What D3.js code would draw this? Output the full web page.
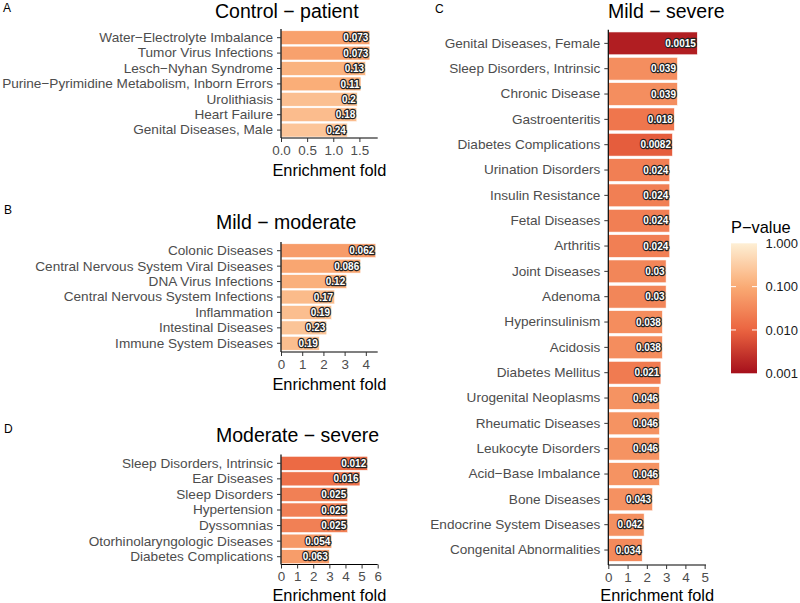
<!DOCTYPE html>
<html><head><meta charset="utf-8">
<script src="https://cdn.jsdelivr.net/npm/d3@7"></script>
<style>body{margin:0;background:#fff}svg{display:block}</style>
</head><body>
<svg id="chart" width="800" height="603"></svg>
<script>
// ---------- data ----------
const termsA = ["Water\u2212Electrolyte Imbalance","Tumor Virus Infections","Lesch\u2212Nyhan Syndrome","Purine\u2212Pyrimidine Metabolism, Inborn Errors","Urolithiasis","Heart Failure","Genital Diseases, Male"];
const foldA = [1.70,1.70,1.62,1.53,1.46,1.45,1.27];
const pA = [0.073,0.073,0.13,0.11,0.2,0.18,0.24];
const pLabelsA = ["0.073","0.073","0.13","0.11","0.2","0.18","0.24"];
const ticksA = [0,0.5,1.0,1.5];

const termsB = ["Colonic Diseases","Central Nervous System Viral Diseases","DNA Virus Infections","Central Nervous System Infections","Inflammation","Intestinal Diseases","Immune System Diseases"];
const foldB = [4.47,3.76,3.10,2.53,2.39,2.16,1.81];
const pB = [0.062,0.086,0.12,0.17,0.19,0.23,0.19];
const pLabelsB = ["0.062","0.086","0.12","0.17","0.19","0.23","0.19"];
const ticksB = [0,1,2,3,4];

const termsD = ["Sleep Disorders, Intrinsic","Ear Diseases","Sleep Disorders","Hypertension","Dyssomnias","Otorhinolaryngologic Diseases","Diabetes Complications"];
const foldD = [5.38,4.90,4.14,4.14,4.14,3.15,3.00];
const pD = [0.012,0.016,0.025,0.025,0.025,0.054,0.063];
const pLabelsD = ["0.012","0.016","0.025","0.025","0.025","0.054","0.063"];
const ticksD = [0,1,2,3,4,5,6];

const termsC = ["Genital Diseases, Female","Sleep Disorders, Intrinsic","Chronic Disease","Gastroenteritis","Diabetes Complications","Urination Disorders","Insulin Resistance","Fetal Diseases","Arthritis","Joint Diseases","Adenoma","Hyperinsulinism","Acidosis","Diabetes Mellitus","Urogenital Neoplasms","Rheumatic Diseases","Leukocyte Disorders","Acid\u2212Base Imbalance","Bone Diseases","Endocrine System Diseases","Congenital Abnormalities"];
const foldC = [4.62,3.59,3.59,3.43,3.33,3.19,3.19,3.19,3.19,3.00,3.00,2.81,2.81,2.73,2.66,2.66,2.66,2.66,2.30,1.86,1.76];
const pC = [0.0015,0.039,0.039,0.018,0.0082,0.024,0.024,0.024,0.024,0.03,0.03,0.038,0.038,0.021,0.046,0.046,0.046,0.046,0.043,0.042,0.034];
const pLabelsC = ["0.0015","0.039","0.039","0.018","0.0082","0.024","0.024","0.024","0.024","0.03","0.03","0.038","0.038","0.021","0.046","0.046","0.046","0.046","0.043","0.042","0.034"];
const ticksC = [0,1,2,3,4,5];

const legendTicks = [1,0.1,0.01,0.001];
const legendLabels = ["1.000","0.100","0.010","0.001"];

// ---------- styling ----------
const FONT = "'Liberation Sans', Arial, Helvetica, sans-serif";
const color = d3.scaleLinear()
  .domain([0,-1,-2,-3])
  .range(["#FEEFD5","#FAAB74","#EB6440","#A50F1B"])
  .interpolate(d3.interpolateRgb)
  .clamp(true);
const fillFor = p => color(Math.log10(p));

const svg = d3.select("#chart").style("font-family", FONT);

function panel(cfg){
  const g = svg.append("g");
  const x = d3.scaleLinear().domain([0,cfg.xmax]).range([cfg.x0,cfg.x1]);
  const y = d3.scaleBand().domain(cfg.terms).range([cfg.top,cfg.bot]).paddingInner(0.1).paddingOuter(0.05);
  const rows = cfg.terms.map((t,i)=>({t, f:cfg.fold[i], p:cfg.p[i], lab:cfg.labels[i]}));

  g.selectAll("rect.bar").data(rows).join("rect")
    .attr("x", x(0)).attr("y", d=>y(d.t))
    .attr("width", d=>x(d.f)-x(0)).attr("height", y.bandwidth())
    .attr("fill", d=>fillFor(d.p))
    .attr("stroke","#fff").attr("stroke-width",0.6);

  g.selectAll("text.val").data(rows).join("text")
    .attr("x", d=>x(d.f)-1.5).attr("y", d=>y(d.t)+y.bandwidth()/2)
    .attr("dy","0.36em").attr("text-anchor","end")
    .attr("font-size",10).attr("font-weight","bold")
    .attr("fill","#fff").attr("stroke","#222").attr("stroke-width",2.4)
    .attr("stroke-linejoin","round").attr("paint-order","stroke")
    .text(d=>d.lab);

  // y axis
  const ya = g.append("g").attr("transform",`translate(${cfg.x0},0)`)
    .call(d3.axisLeft(y).tickSize(4).tickPadding(4));
  ya.select(".domain").attr("d",`M0,${cfg.top-1}V${cfg.axisY}`).attr("stroke","#000").attr("stroke-width",1.2);
  ya.selectAll(".tick line").attr("stroke","#333").attr("stroke-width",1);
  ya.selectAll(".tick text").attr("fill","#4D4D4D").attr("font-size",13.6).attr("font-family",FONT);

  // x axis
  const xa = g.append("g").attr("transform",`translate(0,${cfg.axisY})`)
    .call(d3.axisBottom(x).tickValues(cfg.ticks).tickFormat(cfg.fmt).tickSize(4).tickPadding(3));
  xa.select(".domain").attr("d",`M${cfg.x0},0H${cfg.x1}`).attr("stroke","#000").attr("stroke-width",1.2);
  xa.selectAll(".tick line").attr("stroke","#333").attr("stroke-width",1);
  xa.selectAll(".tick text").attr("fill","#4D4D4D").attr("font-size",13.4).attr("font-family",FONT);

  g.append("text").attr("x",(cfg.x0+cfg.x1)/2).attr("y",cfg.axisTitleY)
    .attr("text-anchor","middle").attr("font-size",16.4).attr("fill","#000").text("Enrichment fold");

  g.append("text").attr("x",cfg.titleX).attr("y",cfg.titleY)
    .attr("font-size",19.5).attr("fill","#000").text(cfg.title);

  g.append("text").attr("x",cfg.letterX).attr("y",cfg.letterY)
    .attr("font-size",12).attr("fill","#000").text(cfg.letter);
}

panel({terms:termsA, fold:foldA, p:pA, labels:pLabelsA, ticks:ticksA, fmt:d3.format(".1f"),
  xmax:1.85, x0:281, x1:377.7, top:30, bot:137.8, axisY:138,
  axisTitleY:176, title:"Control \u2212 patient", titleX:215, titleY:18, letter:"A", letterX:3, letterY:12});
panel({terms:termsB, fold:foldB, p:pB, labels:pLabelsB, ticks:ticksB, fmt:d3.format("d"),
  xmax:4.56, x0:281, x1:377.7, top:243, bot:351, axisY:352,
  axisTitleY:390, title:"Mild \u2212 moderate", titleX:216, titleY:228.5, letter:"B", letterX:4, letterY:213.5});
panel({terms:termsD, fold:foldD, p:pD, labels:pLabelsD, ticks:ticksD, fmt:d3.format("d"),
  xmax:6.0, x0:281, x1:377.7, top:455.5, bot:564.5, axisY:564.5,
  axisTitleY:601, title:"Moderate \u2212 severe", titleX:216, titleY:442, letter:"D", letterX:4, letterY:433});
panel({terms:termsC, fold:foldC, p:pC, labels:pLabelsC, ticks:ticksC, fmt:d3.format("d"),
  xmax:5.07, x0:608.3, x1:706, top:30.7, bot:562.7, axisY:565,
  axisTitleY:601, title:"Mild \u2212 severe", titleX:608, titleY:18, letter:"C", letterX:435, letterY:13});

// ---------- legend ----------
const ly = d3.scaleLog().domain([1,0.001]).range([243.3,373.3]);
const defs = svg.append("defs");
const grad = defs.append("linearGradient").attr("id","pgrad").attr("x1",0).attr("y1",0).attr("x2",0).attr("y2",1);
d3.range(0,1.0001,0.05).forEach(t=>{
  grad.append("stop").attr("offset",t).attr("stop-color",color(-3*t));
});
const lg = svg.append("g");
lg.append("text").attr("x",731).attr("y",233).attr("font-size",16.4).attr("fill","#000").text("P\u2212value");
lg.append("rect").attr("x",731).attr("y",ly(1)).attr("width",26).attr("height",ly(0.001)-ly(1)).attr("fill","url(#pgrad)");
lg.selectAll("line.tk").data(legendTicks.slice(1,3)).join("g").each(function(d){
  const s=d3.select(this);
  s.append("line").attr("x1",731).attr("x2",736).attr("y1",ly(d)).attr("y2",ly(d)).attr("stroke","#fff").attr("stroke-width",1);
  s.append("line").attr("x1",752).attr("x2",757).attr("y1",ly(d)).attr("y2",ly(d)).attr("stroke","#fff").attr("stroke-width",1);
});
lg.selectAll("text.lab").data(legendTicks).join("text")
  .attr("x",765.5).attr("y",d=>ly(d)).attr("dy","0.36em")
  .attr("font-size",13).attr("fill","#1a1a1a").text((d,i)=>legendLabels[i]);
</script>
</body></html>
